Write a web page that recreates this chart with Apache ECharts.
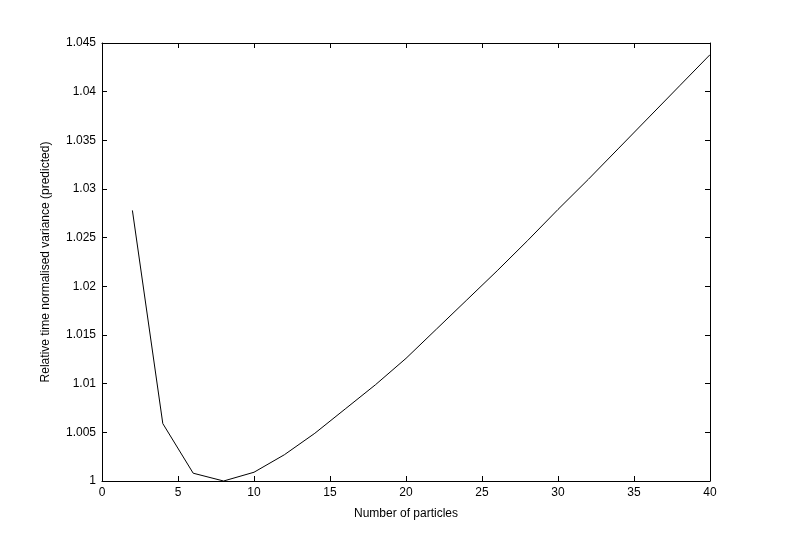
<!DOCTYPE html>
<html>
<head>
<meta charset="utf-8">
<script src="https://cdn.jsdelivr.net/npm/echarts@6/dist/echarts.min.js"></script>
<style>
  html, body { margin: 0; padding: 0; background: #fff; }
  #chart { width: 785px; height: 540px; }
</style>
</head>
<body>
<div id="chart"></div>
<script>
// number of particles (x) and predicted relative variance (y)
const particles = [2, 4, 6, 8, 10, 12, 14, 16, 18, 20, 22, 24, 26, 28, 30, 32, 34, 36, 38, 40]
const variance = [1.0278, 1.0059, 1.0008, 1.0000, 1.0009, 1.0027, 1.0049, 1.0074, 1.0099, 1.0126,
  1.0156, 1.0186, 1.0216, 1.0247, 1.0279, 1.0310, 1.0342, 1.0374, 1.0406, 1.0438]
const xTitle = 'Number of particles'
const yTitle = 'Relative time normalised variance (predicted)'

const font = 'Liberation Sans, Arial, sans-serif'
const axisColor = '#000'

function fmtY (v) {
  return parseFloat(v.toFixed(3)).toString()
}

const boxAxis = {
  axisLine: { show: true, onZero: false, lineStyle: { color: axisColor, width: 1 } },
  axisTick: { show: true, inside: true, length: 5, lineStyle: { color: axisColor } },
  splitLine: { show: false }
}

const option = {
  backgroundColor: '#fff',
  animation: false,
  grid: { left: 102, right: 75, top: 43, bottom: 59 },
  xAxis: [
    Object.assign({
      type: 'value', min: 0, max: 40, interval: 5, position: 'bottom',
      name: xTitle, nameLocation: 'middle', nameGap: 27,
      nameTextStyle: { color: '#000', fontFamily: font, fontSize: 12 },
      axisLabel: { color: '#000', fontFamily: font, fontSize: 12, margin: 6 }
    }, boxAxis),
    Object.assign({
      type: 'value', min: 0, max: 40, interval: 5, position: 'top',
      axisLabel: { show: false }
    }, boxAxis)
  ],
  yAxis: [
    Object.assign({
      type: 'value', min: 1, max: 1.045, interval: 0.005, position: 'left',
      name: yTitle, nameLocation: 'middle', nameGap: 50,
      nameTextStyle: { color: '#000', fontFamily: font, fontSize: 12 },
      axisLabel: { color: '#000', fontFamily: font, fontSize: 12, margin: 6, formatter: fmtY }
    }, boxAxis),
    Object.assign({
      type: 'value', min: 1, max: 1.045, interval: 0.005, position: 'right',
      axisLabel: { show: false }
    }, boxAxis)
  ],
  series: [{
    type: 'line',
    data: particles.map((p, i) => [p, variance[i]]),
    showSymbol: false,
    lineStyle: { color: '#000', width: 1 },
    xAxisIndex: 0,
    yAxisIndex: 0
  }]
}

const chart = echarts.init(document.getElementById('chart'), null, { renderer: 'canvas' })
chart.setOption(option)
</script>
</body>
</html>
